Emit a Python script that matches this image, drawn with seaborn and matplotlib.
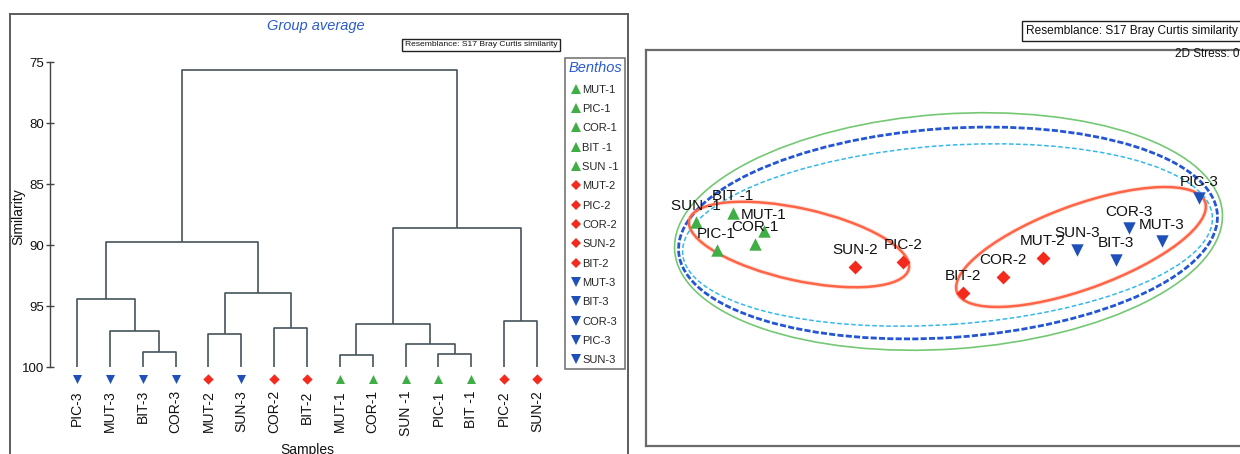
import numpy as np
import pandas as pd
import matplotlib
matplotlib.use("Agg")
import matplotlib.pyplot as plt
import seaborn as sns
from matplotlib.patches import Ellipse
from matplotlib.lines import Line2D

sns.set_theme(style="white")
plt.rcParams["font.family"] = ["Liberation Sans", "DejaVu Sans"]

# ---------------- data ----------------
# dendrogram leaves (left to right) and their group (1, 2, 3)
leaf_labels = ["PIC-3", "MUT-3", "BIT-3", "COR-3", "MUT-2", "SUN-3", "COR-2", "BIT-2",
               "MUT-1", "COR-1", "SUN -1", "PIC-1", "BIT -1", "PIC-2", "SUN-2"]
leaf_groups = [3, 3, 3, 3, 2, 3, 2, 2, 1, 1, 1, 1, 1, 2, 2]
# merges: (node a, node b, similarity); leaves are 0..14, new clusters 15, 16, ...
merge_a = [2, 1, 0, 4, 6, 18, 17, 8, 11, 10, 22, 13, 25, 21]
merge_b = [3, 15, 16, 5, 7, 19, 20, 9, 12, 23, 24, 14, 26, 27]
merge_sim = [98.75, 97.02, 94.40, 97.27, 96.78, 93.91, 89.73,
             99.0, 98.91, 98.09, 96.45, 96.2, 88.58, 75.63]

legend_labels = ["MUT-1", "PIC-1", "COR-1", "BIT -1", "SUN -1",
                 "MUT-2", "PIC-2", "COR-2", "SUN-2", "BIT-2",
                 "MUT-3", "BIT-3", "COR-3", "PIC-3", "SUN-3"]
legend_groups = [1] * 5 + [2] * 5 + [3] * 5

# nMDS ordination
mds_labels = ["SUN -1", "BIT -1", "MUT-1", "COR-1", "PIC-1", "SUN-2", "PIC-2",
              "BIT-2", "COR-2", "MUT-2", "SUN-3", "BIT-3", "COR-3", "MUT-3", "PIC-3"]
mds_groups = [1, 1, 1, 1, 1, 2, 2, 2, 2, 2, 3, 3, 3, 3, 3]
mds_x = [-2.495, -2.12, -1.81, -1.905, -2.285, -0.90, -0.42,
         0.18, 0.577, 0.977, 1.323, 1.71, 1.84, 2.17, 2.54]
mds_y = [0.095, 0.19, 0.005, -0.12, -0.185, -0.345, -0.30,
         -0.61, -0.447, -0.255, -0.18, -0.28, 0.035, -0.095, 0.335]

# similarity contours: centre x, centre y, width, height, angle
contour_cx = [0.035, 0.03, 0.025, -1.46, 1.36]
contour_cy = [0.005, -0.01, -0.03, -0.125, -0.15]
contour_w = [5.49, 5.40, 5.31, 2.25, 2.64]
contour_h = [2.35, 2.09, 1.79, 0.72, 0.84]
contour_ang = [4, 4, 4, -12.5, 20]

# ---------------- styles ----------------
W, H = 1240, 454
grp_color = {1: "#3fae44", 2: "#f42a1e", 3: "#1f4fb8"}
grp_marker = {1: "^", 2: "D", 3: "v"}
LINE = "#45545b"
BLUE_T = "#2a5bd0"


def rect(x0, y0, x1, y1):
    return [x0 / W, 1 - y1 / H, (x1 - x0) / W, (y1 - y0) / H]


fig = plt.figure(figsize=(W / 100, H / 100), dpi=100)
fig.patch.set_facecolor("white")

# left panel frame
axF = fig.add_axes(rect(10, 14, 628, 480))
axF.set_xticks([]); axF.set_yticks([])
axF.set_facecolor("none")
for s in axF.spines.values():
    s.set_color("#5c5c5c"); s.set_linewidth(1.4)

# ---------------- dendrogram ----------------
axD = fig.add_axes(rect(50, 62.3, 560, 386))
axD.set_facecolor("none")
px_leaf0, px_step = 77.0, 32.86
axD.set_xlim((50 - px_leaf0) / px_step, (560 - px_leaf0) / px_step)
axD.set_ylim(75 + (386 - 62.3) / 12.2, 75)

pos = {i: (float(i), 100.0) for i in range(len(leaf_labels))}
for k, (a, b, h) in enumerate(zip(merge_a, merge_b, merge_sim)):
    xa, ha = pos[a]
    xb, hb = pos[b]
    axD.plot([xa, xa, xb, xb], [ha, h, h, hb], color=LINE, lw=1.2,
             solid_capstyle="butt", zorder=2)
    pos[len(leaf_labels) + k] = ((xa + xb) / 2, h)

MARKER_ROW = 100.98
leaf_df = pd.DataFrame({"x": np.arange(len(leaf_labels)),
                        "y": MARKER_ROW,
                        "group": leaf_groups})
for g, size in [(1, 42), (2, 28), (3, 42)]:
    sub = leaf_df[leaf_df["group"] == g]
    sns.scatterplot(data=sub, x="x", y="y", color=grp_color[g], marker=grp_marker[g],
                    s=size, linewidth=0, legend=False, ax=axD, zorder=4, clip_on=False)

axD.set_xticks(np.arange(len(leaf_labels)))
axD.set_xticklabels(leaf_labels, rotation=90, fontsize=10, color="#111111")
axD.tick_params(axis="x", length=0, pad=3)
axD.set_yticks([75, 80, 85, 90, 95, 100])
axD.tick_params(axis="y", direction="inout", length=6, width=1, color="#444444",
                labelsize=9.5, pad=1, labelcolor="#111111", left=True)
for side in ["top", "right", "bottom"]:
    axD.spines[side].set_visible(False)
axD.spines["left"].set_bounds(75, 100)
axD.spines["left"].set_color("#444444")
axD.spines["left"].set_linewidth(1.0)
axD.set_xlabel(""); axD.set_ylabel("")

fig.text(18 / W, 1 - 217 / H, "Similarity", rotation=90, ha="center", va="center",
         fontsize=10, color="#111111")
fig.text(307 / W, 1 - 443 / H, "Samples", ha="center", va="top", fontsize=10,
         color="#111111")
fig.text(316 / W, 1 - 26 / H, "Group average", ha="center", va="center",
         fontsize=10.5, style="italic", color=BLUE_T)
fig.text(405 / W, 1 - 45 / H, "Resemblance: S17 Bray Curtis similarity",
         ha="left", va="center", fontsize=6.1, color="#111111",
         bbox=dict(boxstyle="square,pad=0.3", fc="white", ec="#222222", lw=1))

handles = [Line2D([0], [0], marker=grp_marker[g], linestyle="none",
                  color=grp_color[g], markersize=7 if g != 2 else 5,
                  markeredgewidth=0) for g in legend_groups]
leg = axD.legend(handles, legend_labels, loc="upper left",
                 bbox_to_anchor=(565 / W, 1 - 58 / H), bbox_transform=fig.transFigure,
                 fontsize=8, title="Benthos",
                 title_fontproperties={"style": "italic", "size": 10.5},
                 frameon=True, fancybox=False, edgecolor="#555555",
                 borderpad=0.3, handlelength=0.7, handletextpad=0.25,
                 labelspacing=0.84, borderaxespad=0)
leg.get_title().set_color(BLUE_T)
leg.get_frame().set_linewidth(1.2)

# ---------------- nMDS ----------------
axM = fig.add_axes(rect(646, 50, 1300, 446))
axM.set_facecolor("white")
axM.set_xlim((646 - 945) / 100, (1300 - 945) / 100)
axM.set_ylim((232 - 446) / 100, (232 - 50) / 100)
axM.set_xticks([]); axM.set_yticks([])
for s in axM.spines.values():
    s.set_color("#6a6a6a"); s.set_linewidth(1.6)

styles = [dict(ec="#74c874", lw=1.2, ls="-"),
          dict(ec="#2456d4", lw=2.0, ls=(0, (2.2, 0.8))),
          dict(ec="#35b8ea", lw=1.1, ls=(0, (3, 1.6))),
          dict(ec="#ff6446", lw=1.8, ls="-"),
          dict(ec="#ff6446", lw=1.8, ls="-")]
for cx, cy, w, h, ang, st in zip(contour_cx, contour_cy, contour_w, contour_h,
                                 contour_ang, styles):
    if st["ec"] == "#ff6446":
        axM.add_patch(Ellipse((cx, cy), w, h, angle=ang, fill=False,
                              ec="#ffc2b4", lw=3.2, alpha=0.45, zorder=2))
    axM.add_patch(Ellipse((cx, cy), w, h, angle=ang, fill=False,
                          ec=st["ec"], lw=st["lw"], ls=st["ls"], zorder=3))

mds_df = pd.DataFrame({"x": mds_x, "y": mds_y, "group": mds_groups})
for g, size in [(1, 80), (2, 50), (3, 80)]:
    sub = mds_df[mds_df["group"] == g]
    sns.scatterplot(data=sub, x="x", y="y", color=grp_color[g], marker=grp_marker[g],
                    s=size, linewidth=0, legend=False, ax=axM, zorder=5)
for name, x, y in zip(mds_labels, mds_x, mds_y):
    axM.annotate(name, (x, y), xytext=(0, 12.2), textcoords="offset points",
                 ha="center", va="center", fontsize=11, color="#111111", zorder=6)
axM.set_xlabel(""); axM.set_ylabel("")

fig.text(1026 / W, 1 - 31 / H, "Resemblance: S17 Bray Curtis similarity",
         ha="left", va="center", fontsize=8.55, color="#111111",
         bbox=dict(boxstyle="square,pad=0.3", fc="white", ec="#222222", lw=1))
fig.text(1175 / W, 1 - 54 / H, "2D Stress: 0.05", ha="left", va="center",
         fontsize=8.5, color="#111111")

fig.savefig("out.png", dpi=100, facecolor="white")
